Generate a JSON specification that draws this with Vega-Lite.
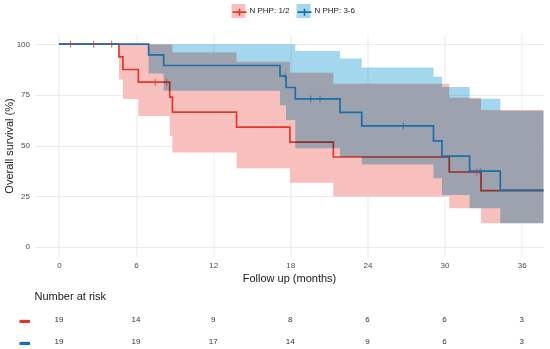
{
  "$schema": "https://vega.github.io/schema/vega-lite/v6.json",
  "padding": {"left": 2.5, "top": 4, "right": 0, "bottom": 0},
  "config": {
    "view": {"stroke": null},
    "font": "Liberation Sans",
    "axis": {"domain": false, "ticks": false, "gridColor": "#EBEBEB", "labelColor": "#4D4D4D", "labelFontSize": 8, "titleFontSize": 11, "titleFontWeight": "normal", "titleColor": "#1A1A1A"}
  },
  "datasets": {
    "curves": [
      {"group": "N PHP: 1/2", "t": 0, "surv": 100},
      {"group": "N PHP: 1/2", "t": 4.67, "surv": 93.75},
      {"group": "N PHP: 1/2", "t": 4.98, "surv": 87.5},
      {"group": "N PHP: 1/2", "t": 6.18, "surv": 81.25},
      {"group": "N PHP: 1/2", "t": 8.62, "surv": 73.86},
      {"group": "N PHP: 1/2", "t": 8.83, "surv": 66.48},
      {"group": "N PHP: 1/2", "t": 13.82, "surv": 59.09},
      {"group": "N PHP: 1/2", "t": 17.97, "surv": 51.7},
      {"group": "N PHP: 1/2", "t": 21.35, "surv": 44.32},
      {"group": "N PHP: 1/2", "t": 30.37, "surv": 36.93},
      {"group": "N PHP: 1/2", "t": 32.84, "surv": 27.7},
      {"group": "N PHP: 1/2", "t": 37.7, "surv": 27.7},
      {"group": "N PHP: 3-6", "t": 0, "surv": 100},
      {"group": "N PHP: 3-6", "t": 6.98, "surv": 94.74},
      {"group": "N PHP: 3-6", "t": 8.15, "surv": 89.47},
      {"group": "N PHP: 3-6", "t": 17.2, "surv": 84.21},
      {"group": "N PHP: 3-6", "t": 17.67, "surv": 78.6},
      {"group": "N PHP: 3-6", "t": 18.39, "surv": 72.98},
      {"group": "N PHP: 3-6", "t": 21.87, "surv": 66.35},
      {"group": "N PHP: 3-6", "t": 23.56, "surv": 59.72},
      {"group": "N PHP: 3-6", "t": 29.14, "surv": 52.25},
      {"group": "N PHP: 3-6", "t": 29.8, "surv": 44.79},
      {"group": "N PHP: 3-6", "t": 31.95, "surv": 37.32},
      {"group": "N PHP: 3-6", "t": 34.34, "surv": 27.99},
      {"group": "N PHP: 3-6", "t": 37.7, "surv": 27.99}
    ],
    "censors": [
      {"group": "N PHP: 1/2", "t": 0.9, "surv": 100},
      {"group": "N PHP: 1/2", "t": 2.7, "surv": 100},
      {"group": "N PHP: 1/2", "t": 4.1, "surv": 100},
      {"group": "N PHP: 1/2", "t": 7.5, "surv": 81.25},
      {"group": "N PHP: 1/2", "t": 8.38, "surv": 81.25},
      {"group": "N PHP: 1/2", "t": 32.5, "surv": 36.93},
      {"group": "N PHP: 3-6", "t": 17.6, "surv": 84.21},
      {"group": "N PHP: 3-6", "t": 19.59, "surv": 72.98},
      {"group": "N PHP: 3-6", "t": 20.31, "surv": 72.98},
      {"group": "N PHP: 3-6", "t": 26.8, "surv": 59.72},
      {"group": "N PHP: 3-6", "t": 32.78, "surv": 37.32}
    ],
    "bands": [
      {"group": "N PHP: 1/2", "t": 0, "lower": 100, "upper": 100},
      {"group": "N PHP: 1/2", "t": 4.67, "lower": 82.6, "upper": 100},
      {"group": "N PHP: 1/2", "t": 4.98, "lower": 72.9, "upper": 100},
      {"group": "N PHP: 1/2", "t": 6.18, "lower": 64.5, "upper": 100},
      {"group": "N PHP: 1/2", "t": 8.62, "lower": 54.7, "upper": 100},
      {"group": "N PHP: 1/2", "t": 8.83, "lower": 46.5, "upper": 95.9},
      {"group": "N PHP: 1/2", "t": 13.82, "lower": 38.8, "upper": 91.3},
      {"group": "N PHP: 1/2", "t": 17.97, "lower": 31.6, "upper": 85.9},
      {"group": "N PHP: 1/2", "t": 21.35, "lower": 24.8, "upper": 80.4},
      {"group": "N PHP: 1/2", "t": 30.37, "lower": 19.0, "upper": 73.5},
      {"group": "N PHP: 1/2", "t": 32.84, "lower": 11.7, "upper": 67.5},
      {"group": "N PHP: 1/2", "t": 37.7, "lower": 11.7, "upper": 67.5},
      {"group": "N PHP: 3-6", "t": 0, "lower": 100, "upper": 100},
      {"group": "N PHP: 3-6", "t": 6.98, "lower": 85.5, "upper": 100},
      {"group": "N PHP: 3-6", "t": 8.15, "lower": 77.0, "upper": 100},
      {"group": "N PHP: 3-6", "t": 17.2, "lower": 69.9, "upper": 100},
      {"group": "N PHP: 3-6", "t": 17.67, "lower": 62.6, "upper": 100},
      {"group": "N PHP: 3-6", "t": 18.39, "lower": 48.6, "upper": 96.6},
      {"group": "N PHP: 3-6", "t": 21.87, "lower": 44.5, "upper": 92.9},
      {"group": "N PHP: 3-6", "t": 23.56, "lower": 40.6, "upper": 88.5},
      {"group": "N PHP: 3-6", "t": 29.14, "lower": 33.8, "upper": 83.9},
      {"group": "N PHP: 3-6", "t": 29.8, "lower": 25.6, "upper": 78.8},
      {"group": "N PHP: 3-6", "t": 31.95, "lower": 19.0, "upper": 73.1},
      {"group": "N PHP: 3-6", "t": 34.34, "lower": 11.7, "upper": 67.2},
      {"group": "N PHP: 3-6", "t": 37.7, "lower": 11.7, "upper": 67.2}
    ],
    "risk": [
      {"group": "N PHP: 1/2", "t": 0, "n": 19},
      {"group": "N PHP: 1/2", "t": 6, "n": 14},
      {"group": "N PHP: 1/2", "t": 12, "n": 9},
      {"group": "N PHP: 1/2", "t": 18, "n": 8},
      {"group": "N PHP: 1/2", "t": 24, "n": 6},
      {"group": "N PHP: 1/2", "t": 30, "n": 6},
      {"group": "N PHP: 1/2", "t": 36, "n": 3},
      {"group": "N PHP: 3-6", "t": 0, "n": 19},
      {"group": "N PHP: 3-6", "t": 6, "n": 19},
      {"group": "N PHP: 3-6", "t": 12, "n": 17},
      {"group": "N PHP: 3-6", "t": 18, "n": 14},
      {"group": "N PHP: 3-6", "t": 24, "n": 9},
      {"group": "N PHP: 3-6", "t": 30, "n": 6},
      {"group": "N PHP: 3-6", "t": 36, "n": 3}
    ]
  },
  "vconcat": [
    {
      "width": 509,
      "height": 223,
      "layer": [
        {
          "data": {"name": "bands"},
          "transform": [{"filter": "datum.group === 'N PHP: 1/2'"}],
          "mark": {"type": "area", "interpolate": "step-after"},
          "encoding": {
            "x": {"field": "t", "type": "quantitative", "scale": {"domain": [-1.9, 37.7], "nice": false, "zero": false},
                  "axis": {"orient": "bottom", "values": [0, 6, 12, 18, 24, 30, 36], "title": "Follow up (months)", "labelPadding": 4, "titlePadding": 3, "gridWidth": 1}},
            "y": {"field": "lower", "type": "quantitative", "scale": {"domain": [-5, 105], "nice": false, "zero": false},
                  "axis": {"orient": "left", "values": [0, 25, 50, 75, 100], "title": "Overall survival (%)", "labelPadding": 5, "titlePadding": 2, "gridWidth": 1}},
            "y2": {"field": "upper"},
            "fill": {"field": "group", "type": "nominal", "scale": {"range": ["#F7C0BC", "#A2D7EE"]},
                     "legend": {"orient": "none", "legendX": 197, "legendY": -30, "direction": "horizontal", "title": null, "symbolType": "square", "symbolSize": 196, "symbolStrokeWidth": 0, "symbolOpacity": 1, "labelFontSize": 8, "labelColor": "#1A1A1A", "labelOffset": 4, "columnPadding": 6}}
          }
        },
        {
          "data": {"name": "curves"},
          "transform": [{"filter": "datum.group === 'N PHP: 1/2'"}],
          "mark": {"type": "line", "interpolate": "step-after", "strokeWidth": 1.7},
          "encoding": {
            "x": {"field": "t", "type": "quantitative", "axis": null},
            "y": {"field": "surv", "type": "quantitative", "axis": null},
            "stroke": {"field": "group", "type": "nominal", "scale": {"range": ["#E4372B", "#1C6EA8"]},
                       "legend": {"orient": "none", "legendX": 197, "legendY": -30, "direction": "horizontal", "title": null, "symbolType": "M-1,0H1M0,-0.5V0.5", "symbolSize": 196, "symbolStrokeWidth": 1.6, "labelFontSize": 8, "labelExpr": "''", "labelOffset": 4, "columnPadding": 42}}
          }
        },
        {
          "data": {"name": "bands"},
          "transform": [{"filter": "datum.group === 'N PHP: 3-6'"}],
          "mark": {"type": "area", "interpolate": "step-after", "blend": "multiply"},
          "encoding": {
            "x": {"field": "t", "type": "quantitative",
                  "axis": {"orient": "bottom", "values": [3, 9, 15, 21, 27, 33], "labels": false, "title": null, "gridWidth": 0.5}},
            "y": {"field": "lower", "type": "quantitative",
                  "axis": {"orient": "left", "values": [12.5, 37.5, 62.5, 87.5], "labels": false, "title": null, "gridWidth": 0.5}},
            "y2": {"field": "upper"},
            "fill": {"field": "group", "type": "nominal"}
          }
        },
        {
          "data": {"name": "curves"},
          "transform": [{"filter": "datum.group === 'N PHP: 3-6'"}],
          "mark": {"type": "line", "interpolate": "step-after", "strokeWidth": 1.7},
          "encoding": {
            "x": {"field": "t", "type": "quantitative", "axis": null},
            "y": {"field": "surv", "type": "quantitative", "axis": null},
            "stroke": {"field": "group", "type": "nominal"}
          }
        },
        {
          "data": {"name": "censors"},
          "mark": {"type": "tick", "orient": "vertical", "size": 7, "thickness": 1.2},
          "encoding": {
            "x": {"field": "t", "type": "quantitative", "axis": null},
            "y": {"field": "surv", "type": "quantitative", "axis": null},
            "color": {"field": "group", "type": "nominal", "scale": {"range": ["#E4372B", "#1C6EA8"]}, "legend": null}
          }
        }
      ],
      "resolve": {"axis": {"x": "independent", "y": "independent"}}
    },
    {
      "width": 509,
      "height": 33,
      "title": {"text": "Number at risk", "anchor": "start", "frame": "group", "fontSize": 11, "fontWeight": "normal", "color": "#1A1A1A", "offset": 12},
      "data": {"name": "risk"},
      "mark": {"type": "text", "fontSize": 8, "color": "#333333"},
      "encoding": {
        "x": {"field": "t", "type": "quantitative", "scale": {"domain": [-1.9, 37.7], "nice": false, "zero": false}, "axis": null},
        "y": {"field": "group", "type": "nominal", "scale": {"type": "point", "padding": 0.25},
              "axis": {"title": null, "grid": false, "labelExpr": "'▬'", "labelFontSize": 10.5, "labelPadding": 5,
                       "labelColor": {"condition": {"test": "datum.value === 'N PHP: 1/2'", "value": "#E4372B"}, "value": "#1C6EA8"}}},
        "text": {"field": "n", "type": "quantitative"}
      }
    }
  ],
  "spacing": 8
}
